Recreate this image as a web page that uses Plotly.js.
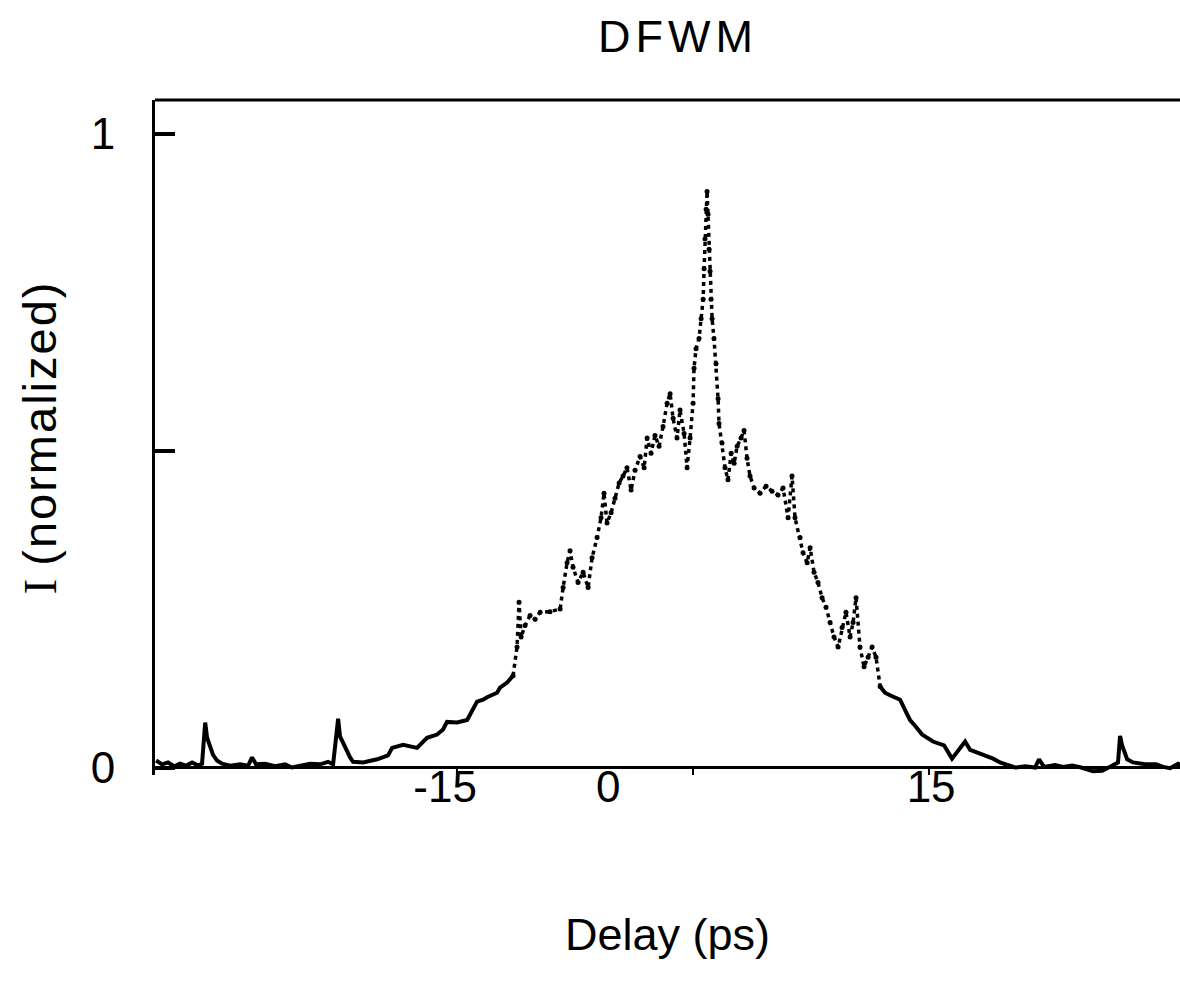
<!DOCTYPE html>
<html>
<head>
<meta charset="utf-8">
<script src="https://cdn.plot.ly/plotly-3.0.1.min.js"></script>
<style>html,body{margin:0;padding:0;background:#fff;}#chart{width:1180px;height:993px;}</style>
</head>
<body>
<div id="chart"></div>
<script>
// Delay (ps) and normalized intensity
const delayLeft = [-34.13,-33.75,-33.37,-32.99,-32.61,-32.22,-31.84,-31.46,-31.21,-31.08,-31.01,-30.89,-30.70,-30.51,-30.26,-29.94,-29.43,-28.79,-28.28,-28.03,-27.78,-27.20,-26.57,-25.93,-25.49,-24.98,-24.34,-23.71,-23.20,-22.88,-22.63,-22.56,-22.44,-22.31,-21.99,-21.80,-21.61,-20.97,-20.08,-19.39,-19.13,-18.43,-17.54,-16.91,-16.27,-15.89,-15.64,-15.00,-14.36,-14.05,-13.73,-13.35,-13.09,-12.46,-12.27,-11.82,-11.44];
const intensityLeft = [0.011,0.005,0.008,0.002,0.006,0.003,0.008,0.003,0.006,0.052,0.071,0.047,0.031,0.020,0.011,0.006,0.003,0.005,0.003,0.016,0.005,0.006,0.002,0.005,0.000,0.003,0.006,0.005,0.009,0.005,0.052,0.077,0.049,0.042,0.028,0.016,0.009,0.008,0.013,0.019,0.031,0.036,0.031,0.047,0.052,0.060,0.072,0.071,0.075,0.088,0.104,0.107,0.111,0.118,0.126,0.134,0.145];

const delayCenter = [-11.44,-11.19,-11.06,-10.93,-10.68,-10.36,-10.04,-9.72,-9.09,-8.45,-8.26,-8.01,-7.82,-7.63,-7.31,-6.99,-6.67,-6.42,-6.10,-5.85,-5.66,-5.47,-5.21,-4.96,-4.70,-4.45,-4.20,-3.94,-3.69,-3.37,-3.11,-2.92,-2.67,-2.42,-2.16,-1.91,-1.65,-1.46,-1.27,-1.02,-0.83,-0.57,-0.38,-0.19,0.00,0.06,0.19,0.38,0.51,0.64,0.70,0.76,0.83,0.89,0.95,1.02,1.08,1.14,1.21,1.33,1.46,1.59,1.65,1.84,2.03,2.22,2.42,2.61,2.80,3.05,3.24,3.43,3.62,3.88,4.26,4.64,5.02,5.40,5.72,6.04,6.29,6.48,6.80,6.99,7.25,7.44,7.69,7.94,8.20,8.45,8.71,8.96,9.22,9.47,9.72,9.98,10.17,10.36,10.61,10.87,11.12,11.38,11.63,11.89];
const intensityCenter = [0.145,0.190,0.261,0.206,0.224,0.240,0.234,0.245,0.246,0.250,0.284,0.323,0.342,0.316,0.292,0.308,0.284,0.331,0.363,0.394,0.433,0.386,0.402,0.425,0.449,0.460,0.473,0.438,0.469,0.491,0.473,0.520,0.496,0.524,0.507,0.538,0.575,0.590,0.551,0.520,0.564,0.527,0.473,0.520,0.575,0.630,0.661,0.677,0.708,0.739,0.787,0.834,0.881,0.909,0.873,0.818,0.783,0.739,0.708,0.677,0.637,0.582,0.543,0.512,0.473,0.454,0.496,0.480,0.507,0.520,0.532,0.488,0.460,0.441,0.433,0.444,0.436,0.430,0.441,0.394,0.460,0.394,0.363,0.339,0.323,0.347,0.308,0.292,0.268,0.253,0.229,0.206,0.190,0.221,0.245,0.206,0.229,0.268,0.190,0.159,0.174,0.190,0.174,0.128];

const delayRight = [11.89,12.20,12.52,12.84,13.16,13.47,13.79,14.11,14.56,15.25,15.95,16.46,16.78,17.29,17.61,18.30,19.07,19.51,19.96,20.47,21.10,21.74,21.99,22.31,23.01,23.52,24.09,24.66,25.42,26.00,26.57,27.01,27.08,27.14,27.27,27.40,27.59,27.97,28.73,29.43,29.88,30.32,30.83,31.08];
const intensityRight = [0.128,0.118,0.114,0.110,0.107,0.091,0.075,0.066,0.052,0.041,0.035,0.014,0.025,0.041,0.028,0.022,0.014,0.008,0.005,0.000,0.002,0.000,0.013,0.001,0.004,0.001,0.003,0.000,-0.006,-0.005,0.002,0.008,0.030,0.050,0.035,0.024,0.013,0.008,0.005,0.005,0.001,-0.001,0.006,0.003];

// Tick labels (positions as printed on the original figure)
const xTickLabelPos = [-15.76, -5.40, 15.13];
const xTickText = ['-15', '0', '15'];
const xTickMarks = [-15, 0, 15];
const yTickVals = [0, 0.5, 1];
const yTickText = ['0', '', '1'];

const FONT = 'Liberation Sans, Arial, sans-serif';

const traces = [
  {x: delayLeft, y: intensityLeft, mode: 'lines', line: {color: '#000', width: 4}, hoverinfo: 'skip', showlegend: false},
  {x: delayCenter, y: intensityCenter, mode: 'lines+markers', line: {color: '#000', width: 3.5, dash: '4px,4px'}, marker: {color: '#000', size: 5}, hoverinfo: 'skip', showlegend: false},
  {x: delayRight, y: intensityRight, mode: 'lines', line: {color: '#000', width: 4}, hoverinfo: 'skip', showlegend: false}
];

const layout = {
  width: 1180, height: 993,
  margin: {l: 155, r: 0, t: 100, b: 218},
  paper_bgcolor: '#fff', plot_bgcolor: '#fff',
  showlegend: false,
  font: {family: FONT, color: '#000'},
  title: {text: '<span style="letter-spacing:5px">DFWM</span>', x: 0.5746, xanchor: 'center', y: 0.963, yanchor: 'middle', xref: 'container', yref: 'container', font: {family: FONT, size: 45, color: '#000'}},
  xaxis: {
    range: [-34.2, 30.95], showline: false, zeroline: false, showgrid: false,
    tickmode: 'array', tickvals: xTickLabelPos, ticktext: xTickText, ticks: '',
    ticklabelstandoff: -18,
    tickfont: {family: FONT, size: 44, color: '#000'},
    minor: {tickmode: 'array', tickvals: xTickMarks, ticks: 'inside', ticklen: 9, tickwidth: 2, tickcolor: '#000', showgrid: false},
    title: {text: 'Delay (ps)', font: {family: FONT, size: 45, color: '#000'}, standoff: 108}
  },
  yaxis: {
    range: [-0.0118, 1.0534], showline: true, linecolor: '#000', linewidth: 3,
    zeroline: true, zerolinecolor: '#000', zerolinewidth: 3, showgrid: false,
    tickmode: 'array', tickvals: yTickVals, ticktext: yTickText,
    ticks: 'inside', ticklen: 20, tickwidth: 4, tickcolor: '#000',
    ticklabelstandoff: 28,
    tickfont: {family: FONT, size: 44, color: '#000'},
    title: {text: '<span style="font-family:Liberation Serif">I</span> <span style="letter-spacing:2px">(normalized)</span>', font: {family: FONT, size: 47, color: '#000'}, standoff: 20}
  },
  shapes: [
    {type: 'line', xref: 'paper', yref: 'paper', x0: 0, x1: 1, y0: 1, y1: 1, line: {color: '#000', width: 3}}
  ]
};

Plotly.newPlot('chart', traces, layout, {staticPlot: true, displayModeBar: false});
</script>
</body>
</html>
